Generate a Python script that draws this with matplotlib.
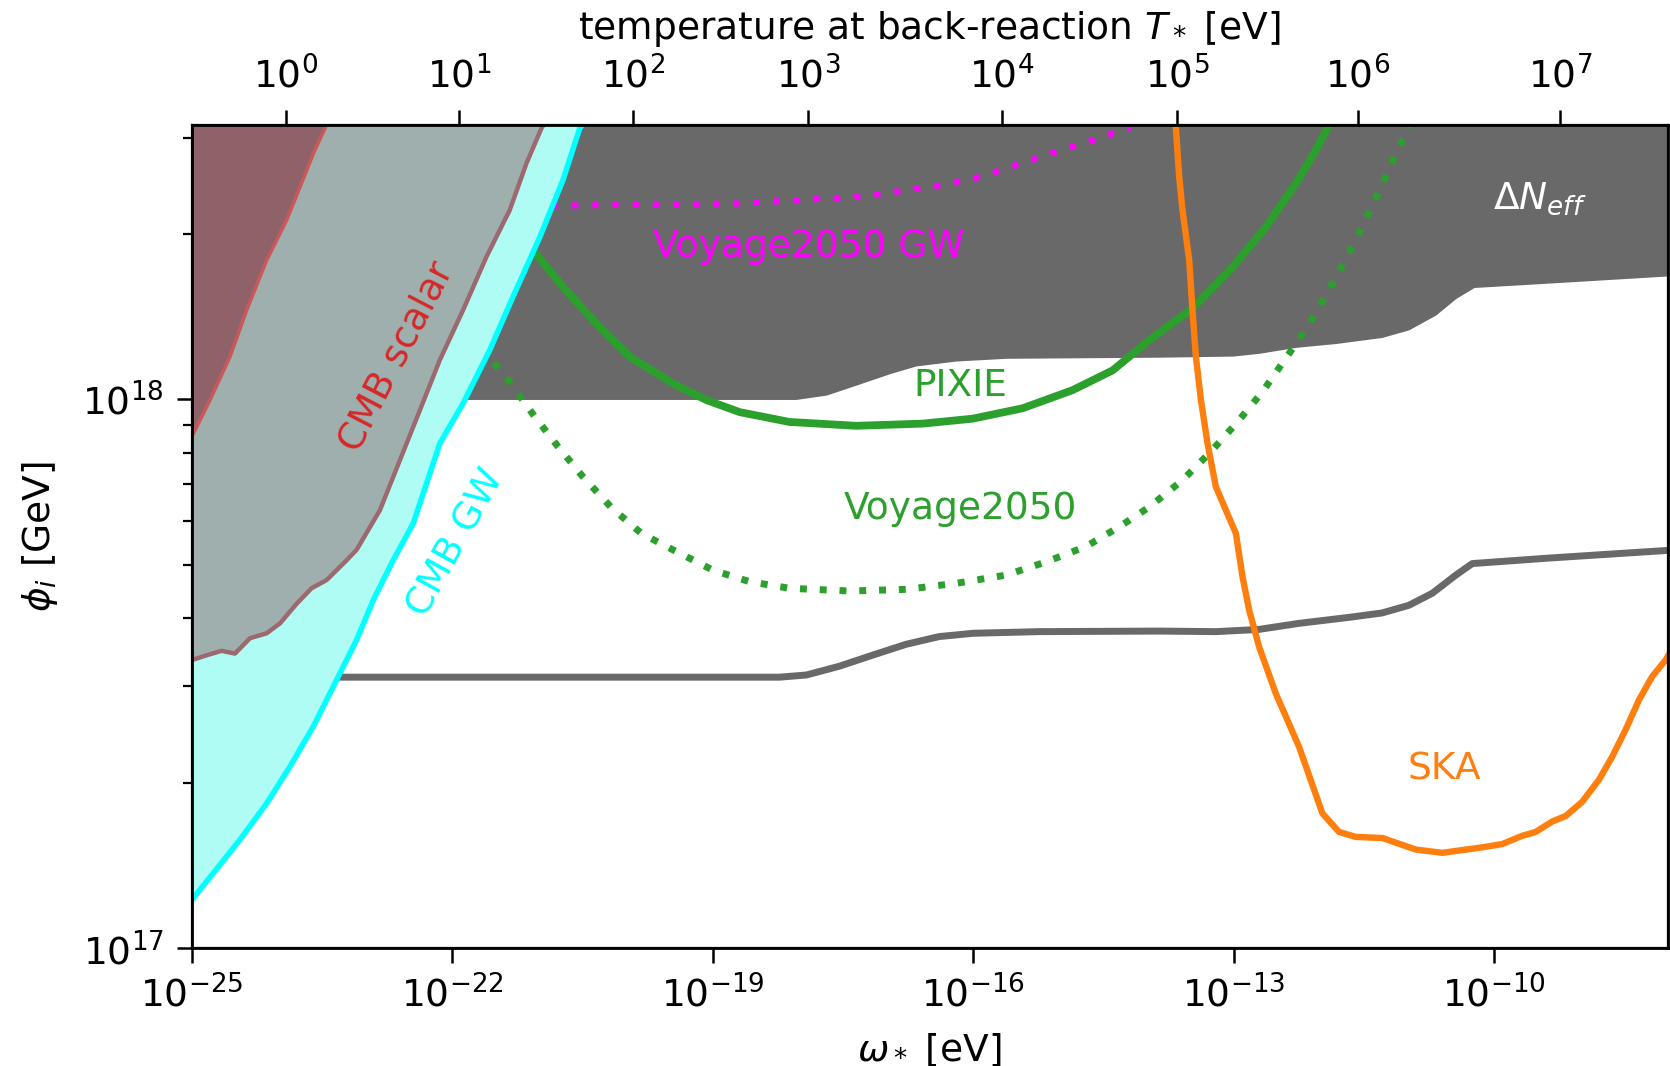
import numpy as np
import matplotlib
matplotlib.use("Agg")
import matplotlib.pyplot as plt
from matplotlib.ticker import LogLocator, NullLocator, NullFormatter

plt.rcParams['font.size'] = 13.5

# all curves stored as log10(omega_* / eV), log10(phi_i / GeV)

# Delta N_eff excluded region (lower boundary, filled up to the top)
neff_logw = [-25.0, -18.23, -18.04, -17.69, -17.35, -16.96, -16.66, -16.20, -15.62,
             -13.86, -13.01, -12.71, -12.28, -11.82, -11.29, -10.98, -10.67, -10.44,
             -10.23, -9.37, -8.0]
neff_logphi = [18.0, 18.0, 18.0, 18.008, 18.026, 18.047, 18.061, 18.070, 18.075,
               18.077, 18.079, 18.084, 18.095, 18.102, 18.113, 18.127, 18.154, 18.184,
               18.204, 18.212, 18.225]

# future Delta N_eff sensitivity (grey line)
neff_fut_logw = [-23.31, -18.23, -17.92, -17.54, -17.16, -16.77, -16.39, -16.0, -15.24,
                 -13.86, -13.20, -12.71, -12.25, -11.67, -11.29, -10.98, -10.71, -10.44,
                 -10.25, -9.37, -8.0]
neff_fut_logphi = [17.494, 17.494, 17.498, 17.514, 17.534, 17.554, 17.568, 17.574, 17.577,
                   17.578, 17.577, 17.581, 17.592, 17.603, 17.611, 17.625, 17.647, 17.680,
                   17.701, 17.711, 17.725]

# CMB GW bound
cmb_gw_logw = [-25.0, -24.751, -24.444, -24.137, -23.869, -23.60, -23.331, -23.101, -22.91,
               -22.68, -22.449, -22.142, -21.874, -21.567, -21.30, -20.99, -20.723, -20.531,
               -20.50]
cmb_gw_logphi = [17.088, 17.137, 17.198, 17.264, 17.331, 17.404, 17.489, 17.562, 17.634,
                 17.707, 17.774, 17.920, 17.993, 18.090, 18.187, 18.296, 18.400, 18.494,
                 18.5]

# CMB scalar bound
cmb_sc_logw = [-25.0, -24.827, -24.655, -24.502, -24.329, -24.137, -23.984, -23.79, -23.62,
               -23.446, -23.216, -23.101, -22.833, -22.603, -22.373, -22.142, -21.874,
               -21.605, -21.337, -21.145, -20.972, -20.95]
cmb_sc_logphi = [17.525, 17.534, 17.542, 17.537, 17.565, 17.574, 17.592, 17.628, 17.656,
                 17.671, 17.707, 17.726, 17.798, 17.889, 17.980, 18.072, 18.163,
                 18.260, 18.345, 18.430, 18.494, 18.5]

# outer scalar region
cmb_sc2_logw = [-25.0, -24.79, -24.56, -24.367, -24.137, -23.907, -23.754, -23.60, -23.466, -23.45]
cmb_sc2_logphi = [17.932, 17.999, 18.078, 18.163, 18.254, 18.327, 18.387, 18.448, 18.494, 18.5]

# PIXIE
pixie_logw = [-21.15, -21.069, -20.723, -20.339, -19.956, -19.457, -19.073, -18.69, -18.114,
              -17.347, -16.58, -16.005, -15.429, -14.854, -14.393, -13.971, -13.473, -13.013,
              -12.628, -12.283, -12.053, -11.92, -11.85]
pixie_logphi = [18.285, 18.272, 18.205, 18.138, 18.078, 18.029, 17.999, 17.977, 17.959,
                17.952, 17.956, 17.965, 17.984, 18.017, 18.053, 18.108, 18.166, 18.241,
                18.314, 18.393, 18.454, 18.494, 18.53]

# Voyage2050 (spectral distortions)
voy_logw = [-21.60, -21.529, -21.337, -21.069, -20.781, -20.493, -20.166, -19.821, -19.457,
            -18.997, -18.575, -18.114, -17.424, -16.771, -16.196, -15.62, -15.16, -14.70,
            -14.316, -13.971, -13.588, -13.261, -12.955, -12.667, -12.398, -12.149, -11.90,
            -11.689, -11.477, -11.286, -11.094, -10.979, -10.92]
voy_logphi = [18.10, 18.068, 18.032, 17.973, 17.914, 17.859, 17.803, 17.756, 17.726,
              17.689, 17.668, 17.656, 17.651, 17.654, 17.665, 17.680, 17.704, 17.732,
              17.768, 17.804, 17.853, 17.905, 17.959, 18.014, 18.075, 18.132, 18.199,
              18.262, 18.327, 18.393, 18.460, 18.494, 18.53]

# Voyage2050 GW
voy_gw_logw = [-20.85, -20.819, -19.841, -18.69, -17.922, -17.347, -16.771, -16.388, -15.928,
               -15.505, -15.084, -14.624, -14.221, -14.10]
voy_gw_logphi = [18.353, 18.353, 18.355, 18.357, 18.364, 18.369, 18.381, 18.390, 18.405,
                 18.427, 18.449, 18.472, 18.494, 18.52]

# SKA
ska_logw = [-13.70, -13.664, -13.626, -13.588, -13.511, -13.473, -13.434, -13.376, -13.30,
            -13.204, -13.088, -12.973, -12.897, -12.82, -12.705, -12.513, -12.245, -11.977,
            -11.785, -11.593, -11.286, -10.902, -10.596, -10.135, -9.905, -9.675, -9.521,
            -9.33, -9.175, -8.984, -8.792, -8.639, -8.485, -8.332, -8.179, -8.025, -7.95]
ska_logphi = [18.55, 18.494, 18.405, 18.345, 18.254, 18.163, 18.078, 17.999, 17.920,
              17.841, 17.798, 17.756, 17.677, 17.616, 17.549, 17.464, 17.367, 17.246,
              17.212, 17.203, 17.201, 17.180, 17.174, 17.184, 17.190, 17.205, 17.212,
              17.231, 17.241, 17.267, 17.307, 17.349, 17.398, 17.452, 17.495, 17.525, 17.545]

# top axis: temperature ticks and where they sit in log10(omega_*)
temp_exponents = [0, 1, 2, 3, 4, 5, 6, 7]
temp_tick_logw = [-23.915, -21.92, -19.918, -17.896, -15.666, -13.652, -11.569, -9.241]

xmin, xmax = 1e-25, 1e-8
ymin, ymax = 1e17, 10**18.5


def p(a):
    return 10**np.array(a)


fig = plt.figure(figsize=(8.35, 5.33), dpi=200)
ax = fig.add_axes([0.1148, 0.1104, 0.8838, 0.7723])
ax.set_xscale('log')
ax.set_yscale('log')

# Delta N_eff
ax.fill_between(p(neff_logw), p(neff_logphi), ymax, color='#696969', lw=0, zorder=1)
ax.plot(p(neff_fut_logw), p(neff_fut_logphi), color='#696969', lw=2.5, zorder=2)

# forecasts
ax.plot(p(pixie_logw), p(pixie_logphi), color='#2ca02c', lw=2.8, zorder=2)
ax.plot(p(voy_logw), p(voy_logphi), color='#2ca02c', lw=2.5, ls=(0, (1, 1.85)), zorder=2)
ax.plot(p(voy_gw_logw), p(voy_gw_logphi), color='magenta', lw=2.2, ls=(0, (1, 2.3)), zorder=2)
ax.plot(p(ska_logw), p(ska_logphi), color='#ff7f0e', lw=2.3, zorder=2)

# CMB bounds
ax.fill_between(p(cmb_gw_logw), p(cmb_gw_logphi), ymax, color='#affcf5', lw=0, zorder=3)
ax.plot(p(cmb_gw_logw), p(cmb_gw_logphi), color='cyan', lw=2.0, zorder=3.5)
ax.fill_between(p(cmb_sc_logw), p(cmb_sc_logphi), ymax, color='#9eafae', lw=0, zorder=4)
ax.plot(p(cmb_sc_logw), p(cmb_sc_logphi), color='#9b696e', lw=1.6, zorder=4.5)
ax.fill_between(p(cmb_sc2_logw), p(cmb_sc2_logphi), ymax, color='#8f626a', lw=0, zorder=5)
ax.plot(p(cmb_sc2_logw), p(cmb_sc2_logphi), color='#c8585a', lw=1.3, zorder=5.5)

# labels inside the plot
ax.text(10**-22.636, 10**18.077, 'CMB scalar', color='#d62728', rotation=62.5,
        ha='center', va='center', zorder=6)
ax.text(10**-21.957, 10**17.738, 'CMB GW', color='cyan', rotation=61,
        ha='center', va='center', zorder=6)
ax.text(10**-17.891, 10**18.277, 'Voyage2050 GW', color='magenta', ha='center', va='center', zorder=6)
ax.text(10**-16.151, 10**18.025, 'PIXIE', color='#2ca02c', ha='center', va='center', zorder=6)
ax.text(10**-16.151, 10**17.80, 'Voyage2050', color='#2ca02c', ha='center', va='center', zorder=6)
ax.text(10**-10.573, 10**17.325, 'SKA', color='#ff7f0e', ha='center', va='center', zorder=6)
ax.text(10**-9.47, 10**18.365, r'$\Delta N_{eff}$', color='white', ha='center', va='center', zorder=6)

ax.set_xlim(xmin, xmax)
ax.set_ylim(ymin, ymax)
ax.set_xticks([10.0**e for e in range(-25, -9, 3)])
ax.xaxis.set_minor_locator(NullLocator())
ax.yaxis.set_minor_locator(LogLocator(base=10, subs=np.arange(2, 10)))
ax.yaxis.set_minor_formatter(NullFormatter())
ax.tick_params(which='major', length=5.5, width=0.9, pad=4.5)
ax.tick_params(which='minor', length=3.2, width=0.8)
for s in ax.spines.values():
    s.set_linewidth(1.0)
    s.set_zorder(10)

ax.set_xlabel(r'$\omega_*$ [eV]', labelpad=6)
ax.set_ylabel(r'$\phi_i$ [GeV]', labelpad=8)

# temperature axis on top
ax2 = ax.twiny()
ax2.set_xscale('log')
ax2.set_xlim(xmin, xmax)
ax2.set_xticks(p(temp_tick_logw))
ax2.set_xticklabels([r'$10^{%d}$' % e for e in temp_exponents])
ax2.xaxis.set_minor_locator(NullLocator())
ax2.tick_params(which='major', length=5.5, width=0.9, pad=5)
ax2.set_xlabel(r'temperature at back-reaction $T_*$ [eV]', labelpad=6)

fig.savefig('out.png', dpi=200)
